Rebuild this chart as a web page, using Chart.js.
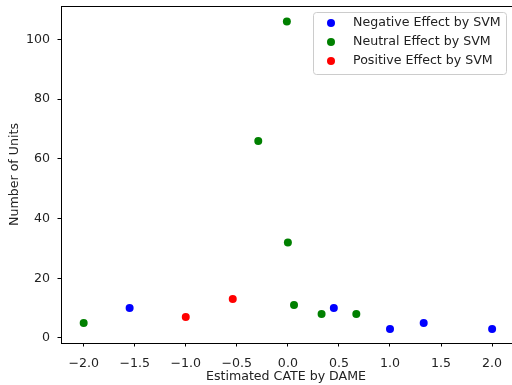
<!DOCTYPE html>
<html lang="en">
<head>
  <meta charset="UTF-8">
  <title>Estimated CATE by DAME</title>
  <script src="https://cdn.jsdelivr.net/npm/chart.js"></script>
  <style>
    body {
      margin: 0;
      padding: 0;
      background-color: #fff;
    }

    #chart-container {
      width: 512px;
      height: 385px;
    }
  </style>
</head>
<body>
  <div id="chart-container">
    <canvas id="cateChart"></canvas>
  </div>

  <script>
    // data
    const negX = [-1.55, 0.45, 1.0, 1.33, 2.0];
    const negY = [10, 10, 3, 5, 3];
    const neuX = [-2.0, -0.01, -0.29, 0.0, 0.06, 0.33, 0.67];
    const neuY = [5, 106, 66, 32, 11, 8, 8];
    const posX = [-1.0, -0.54];
    const posY = [7, 13];

    const seriesLabels = ['Negative Effect by SVM', 'Neutral Effect by SVM', 'Positive Effect by SVM'];
    const xTicks = [-2.0, -1.5, -1.0, -0.5, 0.0, 0.5, 1.0, 1.5, 2.0];
    const yTicks = [0, 20, 40, 60, 80, 100];

    const toPoints = (xs, ys) => xs.map((x, i) => ({ x: x, y: ys[i] }));
    const minus = s => s.replace('-', '\u2212');
    const FONT = 'DejaVu Sans';
    const FSIZE = 12.6;

    // no extra padding from tick labels, chart area set by layout only
    const noPad = s => { s.paddingLeft = s.paddingRight = s.paddingTop = s.paddingBottom = 0; };

    // top spine + matplotlib style legend (right spine falls outside the picture)
    const framePlugin = {
      id: 'frame',
      afterDraw(chart) {
        const { ctx, chartArea: a } = chart;
        ctx.save();
        ctx.strokeStyle = '#000';
        ctx.lineWidth = 1;
        ctx.beginPath();
        ctx.moveTo(a.left, Math.round(a.top) + 0.5);
        ctx.lineTo(chart.width, Math.round(a.top) + 0.5);
        ctx.stroke();

        // legend box
        const bx = 313.5, by = 12.5, bw = 193, bh = 62, r = 3;
        ctx.fillStyle = 'rgba(255,255,255,0.8)';
        ctx.strokeStyle = '#cccccc';
        ctx.beginPath();
        ctx.roundRect(bx, by, bw, bh, r);
        ctx.fill();
        ctx.stroke();

        ctx.font = FSIZE + 'px ' + FONT;
        ctx.textBaseline = 'middle';
        ctx.textAlign = 'left';
        chart.data.datasets.forEach((ds, i) => {
          const cy = 23 + i * 19;
          ctx.fillStyle = ds.backgroundColor;
          ctx.beginPath();
          ctx.arc(331, cy, 4, 0, Math.PI * 2);
          ctx.fill();
          ctx.fillStyle = '#222';
          ctx.fillText(ds.label, 353, cy);
        });
        ctx.restore();
      }
    };

    const ctx = document.getElementById('cateChart').getContext('2d');
    new Chart(ctx, {
      type: 'scatter',
      data: {
        datasets: [
          { label: seriesLabels[0], data: toPoints(negX, negY), backgroundColor: '#0000ff' },
          { label: seriesLabels[1], data: toPoints(neuX, neuY), backgroundColor: '#008000' },
          { label: seriesLabels[2], data: toPoints(posX, posY), backgroundColor: '#ff0000' },
        ],
      },
      options: {
        responsive: true,
        maintainAspectRatio: false,
        animation: false,
        layout: { autoPadding: false, padding: { top: 6, right: 1, left: 0, bottom: 0 } },
        elements: {
          point: { radius: 4, borderWidth: 0, hoverRadius: 4 },
        },
        plugins: {
          legend: { display: false },
          tooltip: { enabled: false },
        },
        scales: {
          x: {
            type: 'linear',
            min: -2.222,
            max: 2.185,
            afterBuildTicks: s => { s.ticks = xTicks.map(v => ({ value: v })); },
            afterFit: s => { s.height = 42; noPad(s); },
            grid: { drawOnChartArea: false, drawTicks: true, tickLength: 3.5, color: '#000' },
            border: { color: '#000' },
            ticks: {
              color: '#222',
              font: { family: FONT, size: FSIZE },
              padding: 10,
              maxRotation: 0,
              callback: v => minus(v.toFixed(1)),
            },
            title: {
              display: true,
              text: 'Estimated CATE by DAME',
              color: '#222',
              font: { family: FONT, size: FSIZE },
              padding: { top: 0, bottom: 1 },
            },
          },
          y: {
            type: 'linear',
            min: -1.7,
            max: 111.2,
            afterBuildTicks: s => { s.ticks = yTicks.map(v => ({ value: v })); },
            afterFit: s => { s.width = 61; noPad(s); },
            grid: { drawOnChartArea: false, drawTicks: true, tickLength: 3.5, color: '#000' },
            border: { color: '#000' },
            ticks: {
              color: '#222',
              font: { family: FONT, size: FSIZE },
              padding: 7.5,
              callback: v => minus(String(v)),
            },
            title: {
              display: true,
              text: 'Number of Units',
              color: '#222',
              font: { family: FONT, size: FSIZE },
              padding: { top: 7.5, bottom: 0 },
            },
          },
        },
      },
      plugins: [framePlugin],
    });
  </script>
</body>
</html>
